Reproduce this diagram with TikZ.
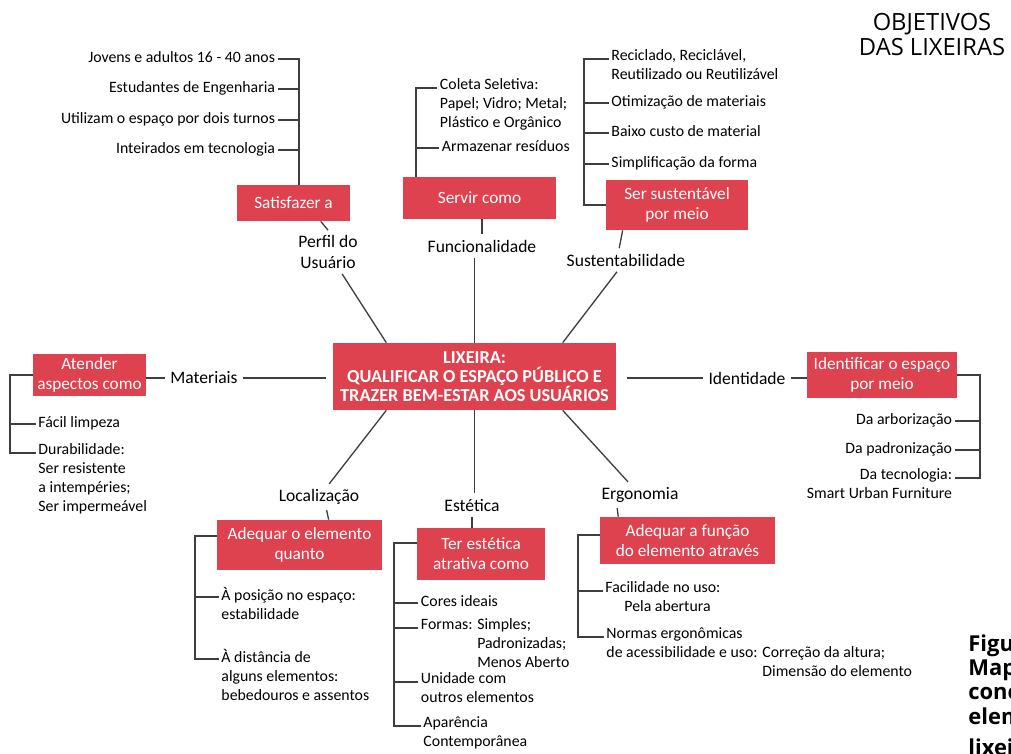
\documentclass[tikz,border=0pt]{standalone}
\usepackage{fontspec}
\setmainfont{Carlito}
\newfontfamily\titulofont{Open Sans}
\usepackage{tikz}

\definecolor{lixred}{RGB}{222,66,79}
\definecolor{linha}{RGB}{62,62,62}

\tikzset{
  caixa/.style 2 args={fill=lixred, text=white, align=center, inner sep=0pt,
    minimum width=#1*0.02cm, minimum height=#2*0.02cm,
    font=\fontsize{9.8}{11.4}\selectfont},
  rotulo/.style={align=center, inner sep=3pt, font=\fontsize{10}{11.5}\selectfont},
  lista/.style={align=left, inner sep=1.5pt, anchor=north west, yshift=7pt,
    execute at begin node=\strut, font=\fontsize{9}{10.8}\selectfont},
  listad/.style={lista, align=right, anchor=north east},
  liga/.style={draw=linha, line width=0.75pt},
}

\begin{document}
\begin{tikzpicture}[x=0.02cm, y=-0.02cm]
   \clip (0,0) rectangle (1011,754);

   %% Titulo
   \node[font=\titulofont\fontsize{13.5}{14.2}\selectfont, align=center] (titulo) at (932,34.5) {OBJETIVOS\\DAS LIXEIRAS};

   %% Centro
   \node[caixa={283}{67}, font=\fontsize{10.4}{11}\selectfont\bfseries] (centro) at (474.5,376.5)
      {LIXEIRA:\\QUALIFICAR O ESPAÇO PÚBLICO E\\TRAZER BEM-ESTAR AOS USUÁRIOS};

   %% Caixas
   \node[caixa={113}{36}] (satisf) at (293.5,203) {Satisfazer a};
   \node[caixa={153}{42}] (servir) at (479.5,198) {Servir como};
   \node[caixa={142}{50}] (susten) at (677,205) {Ser sustentável\\por meio};
   \node[caixa={113}{42}] (atender) at (89.5,375) {Atender\\aspectos como};
   \node[caixa={150}{46}] (identif) at (882,375) {Identificar o espaço\\por meio};
   \node[caixa={165}{50}] (adeqel) at (299.5,545) {Adequar o elemento\\quanto};
   \node[caixa={128}{52}] (estet) at (481,554) {Ter estética\\atrativa como};
   \node[caixa={175}{47}] (adeqfn) at (687.5,540.5) {Adequar a função\\do elemento através};

   %% Rotulos
   \node[rotulo] (perfil) at (328,252) {Perfil do\\Usuário};
   \node[rotulo] (funcional) at (482,246) {Funcionalidade};
   \node[rotulo] (sustentab) at (626,260) {Sustentabilidade};
   \node[rotulo] (materiais) at (204,378) {Materiais};
   \node[rotulo] (identidade) at (747,378) {Identidade};
   \node[rotulo] (localiz) at (319,497) {Localização};
   \node[rotulo] (estetica) at (472,505) {Estética};
   \node[rotulo] (ergonomia) at (640,495) {Ergonomia};

   %% Ligacoes
   \draw[liga] (centro.159) -- (perfil);
   \draw[liga] (centro.north) -- (centro.north |- funcional.south);
   \draw[liga] (centro.21) -- (sustentab);
   \draw[liga, shorten >=4pt] (materiais.east) -- (materiais.east -| centro.west);
   \draw[liga, shorten >=6pt] (identidade.west) -- (identidade.west -| centro.east);
   \draw[liga] (centro.201) -- (localiz);
   \draw[liga] (centro.south) -- (centro.south |- estetica.north);
   \draw[liga] (centro.339) -- (ergonomia);

   \draw[liga] (perfil.north) -- (satisf.-34);
   \draw[liga] (funcional.north) -- (funcional.north |- servir.south);
   \draw[liga] (sustentab.120) -- (susten.205);
   \draw[liga] (materiais.west) -- (materiais.west -| atender.east);
   \draw[liga] (identidade.east) -- (identidade.east -| identif.west);
   \draw[liga] (localiz.-60) -- (adeqel.41);
   \draw[liga] (estetica.south) -- (estetica.south |- estet.north);
   \draw[liga] (ergonomia.210) -- (adeqfn.161);

   %% Perfil do usuario
   \node[listad] (pu1) at (278,59) {Jovens e adultos 16 - 40 anos};
   \node[listad] (pu2) at (278,89) {Estudantes de Engenharia};
   \node[listad] (pu3) at (278,120) {Utilizam o espaço por dois turnos};
   \node[listad] (pu4) at (278,150) {Inteirados em tecnologia};
   \coordinate (pu) at (299,59);
   \draw[liga] ([yshift=-7pt]pu1.north east) -- (pu) -- (pu |- satisf.north);
   \draw[liga] ([yshift=-7pt]pu2.north east) -- +(21,0);
   \draw[liga] ([yshift=-7pt]pu3.north east) -- +(21,0);
   \draw[liga] ([yshift=-7pt]pu4.north east) -- +(21,0);

   %% Funcionalidade
   \node[lista] (fu1) at (437,88) {Coleta Seletiva:\\Papel; Vidro; Metal;\\Plástico e Orgânico};
   \node[lista] (fu2) at (439,148) {Armazenar resíduos};
   \coordinate (fu) at (416,88);
   \draw[liga] ([yshift=-7pt]fu1.north west) -- (fu) -- (fu |- servir.north);
   \draw[liga] ([yshift=-7pt]fu2.north west) -- +(-23,0);

   %% Sustentabilidade
   \node[lista] (su1) at (608.5,59) {Reciclado, Reciclável,\\Reutilizado ou Reutilizável};
   \node[lista] (su2) at (608.5,103) {Otimização de materiais};
   \node[lista] (su3) at (608.5,133) {Baixo custo de material};
   \node[lista] (su4) at (608.5,164) {Simplificação da forma};
   \coordinate (su) at (584,59);
   \draw[liga] ([yshift=-7pt]su1.north west) -- (su) |- (susten.west);
   \draw[liga] ([yshift=-7pt]su2.north west) -- +(-24.5,0);
   \draw[liga] ([yshift=-7pt]su3.north west) -- +(-24.5,0);
   \draw[liga] ([yshift=-7pt]su4.north west) -- +(-24.5,0);

   %% Materiais
   \node[lista] (ma1) at (35.5,424) {Fácil limpeza};
   \node[lista] (ma2) at (35.5,453) {Durabilidade:\\Ser resistente\\a intempéries;\\Ser impermeável};
   \coordinate (ma) at (10,375);
   \draw[liga] (atender.west) -- (ma) |- ([yshift=-7pt]ma2.north west);
   \draw[liga] ([yshift=-7pt]ma1.north west) -- +(-25.5,0);

   %% Identidade
   \node[listad] (id1) at (955,421) {Da arborização};
   \node[listad] (id2) at (955,450) {Da padronização};
   \node[listad] (id3) at (955,478) {Da tecnologia:\\Smart Urban Furniture};
   \coordinate (id) at (980,375);
   \draw[liga] (identif.east) -- (id) |- ([yshift=-7pt]id3.north east);
   \draw[liga] ([yshift=-7pt]id1.north east) -- +(25,0);
   \draw[liga] ([yshift=-7pt]id2.north east) -- +(25,0);

   %% Localizacao
   \node[lista] (lo1) at (218.5,597) {À posição no espaço:\\estabilidade};
   \node[lista] (lo2) at (218.5,659) {À distância de\\alguns elementos:\\bebedouros e assentos};
   \coordinate (lo) at (195,536);
   \draw[liga] (lo -| adeqel.west) -- (lo) |- ([yshift=-7pt]lo2.north west);
   \draw[liga] ([yshift=-7pt]lo1.north west) -- +(-23.5,0);

   %% Estetica
   \node[lista] (es1) at (418,603) {Cores ideais};
   \node[lista] (es2) at (418,628) {Formas: Simples;\\\hphantom{Formas: }Padronizadas;\\\hphantom{Formas: }Menos Aberto};
   \node[lista] (es3) at (418,682) {Unidade com\\outros elementos};
   \node[lista] (es4) at (420.5,726) {Aparência\\Contemporânea};
   \coordinate (es) at (394,543);
   \draw[liga] (es -| estet.west) -- (es) |- ([yshift=-7pt]es4.north west);
   \draw[liga] ([yshift=-7pt]es1.north west) -- +(-24,0);
   \draw[liga] ([yshift=-7pt]es2.north west) -- +(-24,0);
   \draw[liga] ([yshift=-7pt]es3.north west) -- +(-24,0);

   %% Ergonomia
   \node[lista] (er1) at (602.5,591) {Facilidade no uso:\\\hspace*{1.2em}Pela abertura};
   \node[lista] (er2) at (603.5,637) {Normas ergonômicas\\de acessibilidade e uso: Correção da altura;\\\hphantom{de acessibilidade e uso: }Dimensão do elemento};
   \coordinate (er) at (578,535);
   \draw[liga] (er -| adeqfn.west) -- (er) |- ([yshift=-7pt]er2.north west);
   \draw[liga] ([yshift=-7pt]er1.north west) -- +(-24.5,0);

   %% Legenda
   \node[font=\titulofont\bfseries\fontsize{12.5}{13.9}\selectfont, align=left, anchor=north west, inner sep=0pt]
      (legenda) at (968,634) {Figu\\Map\\conc\\elem\\[4pt]lixei};
\end{tikzpicture}
\end{document}
